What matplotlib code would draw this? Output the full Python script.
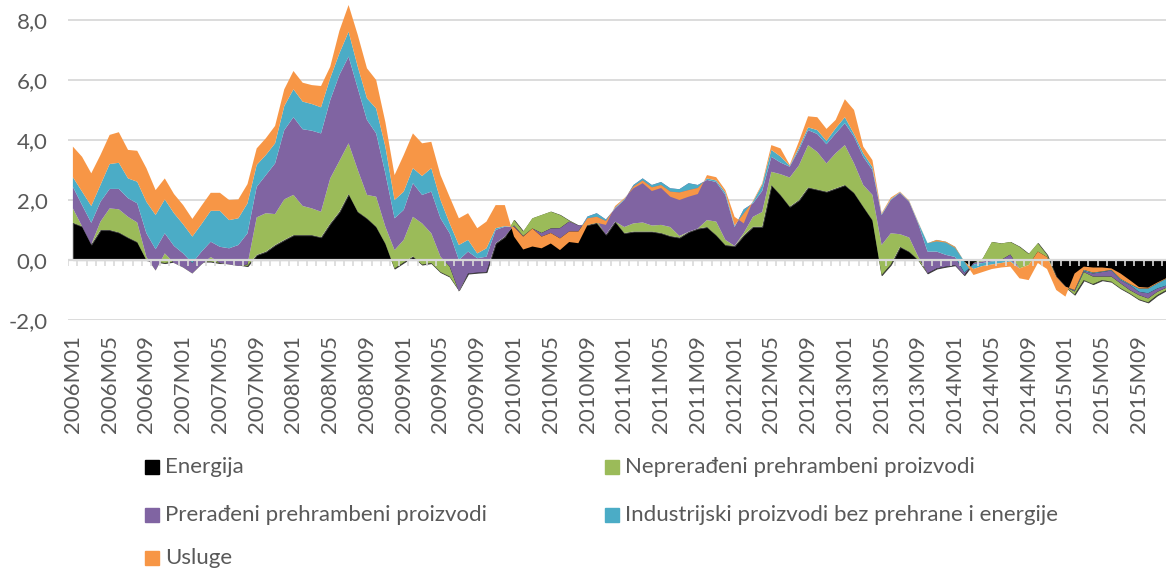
import numpy as np
import matplotlib.pyplot as plt
from matplotlib.patches import Rectangle

# monthly categories 2006M01 .. 2015M12
months = [f"{y}M{m:02d}" for y in range(2006, 2016) for m in range(1, 13)]

# contributions (percentage points), one row per year
energija = [
    1.24, 1.12, 0.52, 1.00, 1.00, 0.92, 0.75, 0.60, 0.00, -0.05, -0.10, -0.05,
    -0.10, -0.10, -0.05, -0.05, -0.10, -0.10, -0.15, -0.20, 0.17, 0.28, 0.50, 0.67,
    0.83, 0.83, 0.83, 0.76, 1.22, 1.61, 2.20, 1.61, 1.39, 1.11, 0.55, -0.28,
    -0.08, 0.12, -0.15, -0.10, -0.40, -0.55, -1.00, -0.45, -0.42, -0.40, 0.56, 0.78,
    1.33, 0.95, 1.39, 1.50, 1.61, 1.50, 1.31, 1.15, 1.17, 1.24, 0.85, 1.28,
    0.90, 0.95, 0.95, 0.95, 0.90, 0.80, 0.75, 0.94, 1.05, 1.10, 0.83, 0.50,
    0.47, 0.83, 1.11, 1.11, 2.50, 2.17, 1.78, 2.00, 2.42, 2.35, 2.28, 2.39,
    2.50, 2.24, 1.78, 1.33, -0.50, -0.15, 0.44, 0.28, 0.00, -0.44, -0.28, -0.22,
    -0.17, -0.50, -0.10, 0.05, 0.60, 0.55, 0.60, 0.44, 0.20, 0.56, 0.17, -0.56,
    -0.89, -1.15, -0.67, -0.80, -0.67, -0.72, -0.94, -1.11, -1.31, -1.41, -1.17, -1.00,
]
neprerađeni = [
    0.48, 0.00, 0.00, 0.28, 0.72, 0.77, 0.69, 0.65, 0.10, -0.30, 0.32, -0.05,
    -0.15, -0.35, -0.10, 0.15, 0.00, -0.05, -0.05, 0.05, 1.25, 1.28, 1.03, 1.35,
    1.34, 0.97, 0.89, 0.85, 1.50, 1.69, 1.69, 1.39, 0.78, 1.00, 0.56, 0.61,
    0.75, 1.32, 1.37, 0.99, 0.51, 0.33, -0.05, 0.00, 0.00, 0.00, 0.00, 0.00,
    -0.18, -0.15, -0.34, -0.60, -0.56, -0.44, -0.03, 0.00, 0.03, 0.06, 0.00, 0.00,
    0.20, 0.27, 0.30, 0.20, 0.27, 0.30, 0.05, 0.00, 0.00, 0.23, 0.45, 0.17,
    0.00, 0.07, 0.33, 0.49, 0.44, 0.69, 0.97, 1.15, 1.41, 1.25, 0.94, 1.17,
    1.33, 0.98, 0.72, 0.84, 1.00, 1.04, 0.42, 0.47, 0.10, 0.00, 0.00, 0.00,
    0.00, 0.00, 0.00, -0.10, -0.60, -0.55, -0.42, -0.72, -0.37, -0.28, -0.07, 0.00,
    0.00, 0.10, 0.27, 0.25, 0.12, 0.17, 0.16, 0.11, 0.14, 0.13, 0.11, 0.08,
]
prerađeni = [
    0.72, 0.71, 0.72, 0.66, 0.65, 0.68, 0.62, 0.64, 0.79, 0.71, 0.67, 0.57,
    0.47, 0.35, 0.43, 0.51, 0.54, 0.54, 0.70, 1.04, 1.02, 1.27, 1.69, 2.31,
    2.59, 2.56, 2.59, 2.61, 2.61, 2.87, 2.89, 2.72, 2.50, 2.11, 1.78, 1.06,
    1.00, 1.12, 0.95, 1.39, 1.28, 1.11, 1.05, 0.73, 0.48, 0.51, 0.44, 0.33,
    -0.05, -0.02, 0.00, -0.12, -0.15, -0.34, -0.33, -0.20, 0.25, 0.26, 0.50, 0.44,
    0.90, 1.28, 1.47, 1.35, 1.43, 1.29, 1.56, 1.62, 1.45, 1.34, 1.32, 1.50,
    0.63, 0.79, 0.45, 0.70, 0.50, 0.39, 0.36, 0.52, 0.50, 0.60, 0.64, 0.66,
    0.73, 0.89, 0.94, 0.83, 1.00, 1.11, 1.38, 1.19, 1.10, 0.72, 0.56, 0.39,
    0.27, 0.08, -0.05, -0.05, -0.05, 0.00, -0.18, 0.00, 0.00, 0.00, 0.00, 0.00,
    0.00, 0.03, 0.03, 0.10, 0.15, 0.20, 0.11, 0.17, 0.11, 0.17, 0.11, 0.07,
]
industrijski = [
    0.32, 0.45, 0.56, 0.56, 0.83, 0.87, 0.66, 0.72, 1.05, 1.14, 1.13, 1.09,
    0.97, 0.88, 0.92, 1.03, 1.20, 0.94, 0.89, 1.00, 0.73, 0.67, 0.67, 0.80,
    0.93, 0.92, 0.89, 0.87, 0.73, 0.72, 0.83, 0.72, 0.72, 0.83, 0.89, 0.61,
    0.61, 0.50, 0.63, 0.78, 0.61, 0.33, 0.50, 0.39, 0.16, 0.28, 0.06, 0.02,
    0.00, 0.00, 0.00, 0.00, 0.00, 0.00, 0.00, 0.00, -0.06, -0.12, -0.05, 0.03,
    0.03, -0.05, -0.07, -0.08, -0.10, -0.11, -0.11, -0.23, -0.10, 0.05, 0.05, 0.08,
    0.05, -0.14, 0.05, 0.20, 0.23, 0.20, 0.03, 0.08, 0.09, 0.13, 0.11, 0.17,
    0.20, 0.09, 0.12, 0.10, 0.03, 0.03, 0.02, 0.02, 0.04, 0.28, 0.39, 0.44,
    0.34, 0.37, -0.15, -0.10, -0.10, -0.10, -0.05, 0.00, 0.00, 0.00, 0.00, 0.00,
    0.00, 0.02, 0.04, 0.03, 0.02, 0.02, 0.04, 0.03, 0.11, 0.16, 0.17, 0.23,
]
usluge = [
    1.02, 1.16, 1.09, 1.00, 0.97, 1.02, 0.95, 1.03, 1.12, 0.83, 0.70, 0.64,
    0.64, 0.59, 0.61, 0.60, 0.60, 0.67, 0.63, 0.64, 0.55, 0.56, 0.58, 0.56,
    0.61, 0.63, 0.63, 0.71, 0.38, 0.75, 0.89, 1.06, 1.00, 0.95, 0.82, 0.83,
    1.22, 1.16, 1.09, 0.88, 0.83, 0.88, 0.89, 0.89, 0.84, 0.89, 0.77, 0.70,
    -0.32, -0.43, -0.60, -0.39, -0.35, -0.39, -0.35, -0.39, -0.22, -0.20, -0.13, 0.05,
    0.03, -0.06, -0.09, -0.12, -0.10, -0.17, -0.25, -0.22, -0.20, 0.11, 0.11, 0.08,
    0.29, -0.33, 0.03, 0.05, 0.16, 0.27, 0.03, 0.20, 0.37, 0.43, 0.40, 0.28,
    0.60, 0.80, 0.22, 0.23, 0.03, 0.05, 0.02, 0.02, 0.02, 0.00, -0.05, -0.03,
    -0.04, 0.00, -0.20, -0.20, -0.15, -0.15, -0.17, -0.33, -0.50, -0.38, -0.40, -0.44,
    -0.33, 0.55, 0.11, 0.17, 0.13, 0.05, 0.18, 0.13, 0.05, 0.03, 0.03, 0.02,
]

labels = ["Energija", "Neprerađeni prehrambeni proizvodi",
          "Prerađeni prehrambeni proizvodi",
          "Industrijski proizvodi bez prehrane i energije", "Usluge"]
colors = ["#000000", "#9bbb59", "#8064a2", "#4bacc6", "#f79646"]

plt.rcParams['font.family'] = ['Lato', 'DejaVu Sans']
txt = '#595959'
grid = '#d9d9d9'

W, H = 1166, 570
fig = plt.figure(figsize=(W / 100, H / 100), dpi=100)
# plot area: y=-2 at 320 px, 30 px per unit; one category = 9.19 px
ax = fig.add_axes([68.3 / W, (H - 320) / H, 9.19 * len(months) / W, 360 / H])

x = np.arange(len(months))
polys = ax.stackplot(x, energija, neprerađeni, prerađeni, industrijski, usluge,
                     colors=colors, linewidth=0)
polys[0].set_edgecolor('#404040')
polys[0].set_linewidth(0.8)

ax.set_xlim(-0.5, len(months) - 0.5)
ax.set_ylim(-2, 10)
ax.set_yticks(np.arange(-2, 8.1, 2))
ax.yaxis.set_major_formatter(lambda v, p: f"{v:.1f}".replace('.', ','))
ax.grid(axis='y', color=grid, lw=1.3)
ax.set_axisbelow(True)

# horizontal axis line at zero with category tick marks
ax.axhline(0, color=grid, lw=1.6, zorder=5)
ax.vlines(np.arange(len(months) + 1) - 0.5, -0.2, 0, color=grid, lw=1.2, zorder=5)

ax.set_xticks(x[::4])
ax.set_xticklabels(months[::4], rotation=90)
ax.tick_params(axis='x', length=0, pad=11, labelsize=16, labelcolor=txt)
ax.tick_params(axis='y', length=0, pad=15, labelsize=16, labelcolor=txt)
for s in ax.spines.values():
    s.set_visible(False)

# legend, two columns filled row by row
slots = [(145, 467), (605, 467), (145, 515), (605, 515), (145, 558)]
for (px, py), lab, col in zip(slots, labels, colors):
    fig.patches.append(Rectangle(((px) / W, (H - py - 7) / H), 14 / W, 14 / H,
                                 transform=fig.transFigure, color=col))
    fig.text((px + 20) / W, (H - py) / H, lab, fontsize=16, color=txt,
             va='center', ha='left')

fig.savefig("out.png", dpi=100)
